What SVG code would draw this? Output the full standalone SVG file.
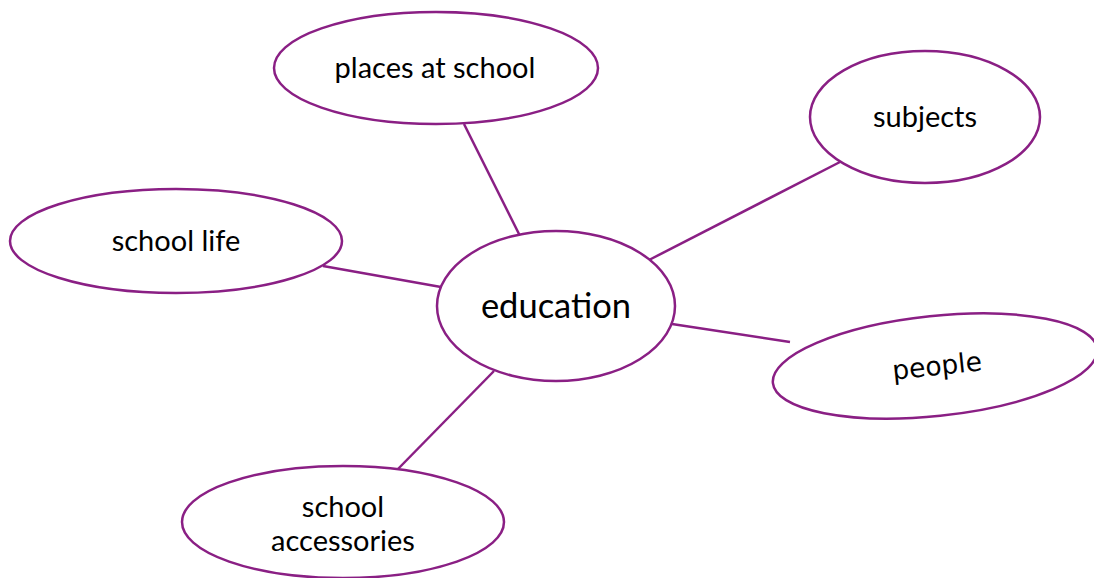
<svg xmlns="http://www.w3.org/2000/svg" width="1094" height="578" viewBox="0 0 1094 578">
<style>
.n{fill:#fff;stroke:#8a1f84;stroke-width:2.5}
.c{stroke:#8a1f84;stroke-width:2.5;fill:none}
.t{font-family:Lato,"Open Sans","Liberation Sans",sans-serif;font-size:29px;fill:#000;text-anchor:middle}
</style>
<rect width="1094" height="578" fill="#fff"/>
<g id="connectors">
<line class="c" x1="464" y1="124" x2="520" y2="236"/>
<line class="c" x1="840" y1="162" x2="649" y2="260"/>
<line class="c" x1="323" y1="266" x2="441" y2="287"/>
<line class="c" x1="672" y1="324" x2="790" y2="342"/>
<line class="c" x1="397" y1="470" x2="494" y2="371"/>
</g>
<g id="places">
<ellipse class="n" cx="436" cy="68" rx="162" ry="56"/>
<text class="t" x="435" y="78">places at school</text>
</g>
<g id="subjects">
<ellipse class="n" cx="925" cy="117" rx="115" ry="66"/>
<text class="t" x="925" y="127">subjects</text>
</g>
<g id="schoollife">
<ellipse class="n" cx="176" cy="241" rx="166" ry="52"/>
<text class="t" x="176" y="251">school life</text>
</g>
<g id="education">
<ellipse class="n" cx="556" cy="306" rx="119" ry="75"/>
<text class="t" x="556" y="318" style="font-size:34.5px">education</text>
</g>
<g id="people">
<ellipse class="n" cx="935" cy="366" rx="163" ry="50" transform="rotate(-6 935 366)"/>
<text class="t" x="937" y="375" transform="rotate(-6 937 366)" style="font-family:'DejaVu Sans',sans-serif;font-size:26.5px">people</text>
</g>
<g id="accessories">
<ellipse class="n" cx="343" cy="522" rx="161" ry="56"/>
<text class="t" x="343" y="517">school</text>
<text class="t" x="343" y="551">accessories</text>
</g>
</svg>
